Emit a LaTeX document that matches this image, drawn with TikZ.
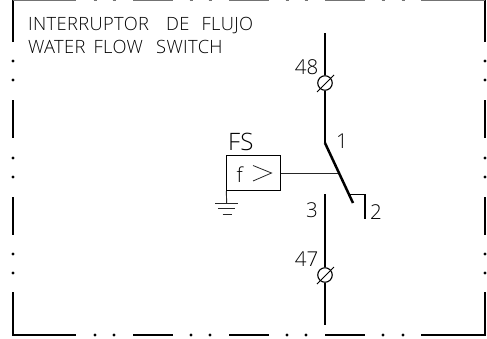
\documentclass[tikz,border=0pt]{standalone}
\usepackage{fontspec}
\setmainfont{Open Sans Light}
\tikzset{
  x=1pt,y=-1pt,
  frameline/.style={line width=2.7pt,line cap=butt,black},
  wire/.style={line width=1.1pt,black},
  thinwire/.style={line width=0.9pt,black!85},
  blade/.style={line width=2.5pt,black},
  terminal/.style={circle,draw=black,line width=1.1pt,fill=white,inner sep=0pt,minimum size=14.5pt},
  lab/.style={inner sep=0pt,text=black,font=\fontsize{20.5}{20.5}\selectfont},
  head/.style={inner sep=0pt,anchor=base west,text=black,font=\fontsize{18.3}{18.3}\selectfont\addfontfeature{LetterSpace=2}}
}
\begin{document}
\begin{tikzpicture}
\useasboundingbox (0,0) rectangle (487,338);
\fill[white] (0,0) rectangle (487,338);
% frame
\draw[frameline] (13,42) -- (13,0);
\foreach \y in {61,80,158,177,254,273}{\fill (13,\y) circle[radius=1.7]; \fill (485,\y) circle[radius=1.7];}
\draw[frameline] (13,100) -- (13,138);
\draw[frameline] (13,197) -- (13,235);
\draw[frameline] (13,292) -- (13,335) -- (76,335);
\draw[frameline] (485,42) -- (485,0);
\draw[frameline] (485,100) -- (485,138);
\draw[frameline] (485,197) -- (485,235);
\draw[frameline] (485,292) -- (485,335) -- (421,335);
\draw[frameline] (133,335) -- (173,335);
\draw[frameline] (229,335) -- (269,335);
\draw[frameline] (325,335) -- (365,335);
\foreach \x in {95,114,191,210,287,306,383,403}{\fill (\x,335) circle[radius=1.7];}
% top edge, clipped by the page
\draw[black!55,line width=1pt] (13,0) -- (76,0) (133,0) -- (173,0) (229,0) -- (269,0) (325,0) -- (365,0) (421,0) -- (485,0);
\foreach \x in {95,114,191,210,287,306,383,403}{\draw[black!55,line width=1pt] (\x-1.5,0) -- (\x+1.5,0);}
% title
\node[head] (t1) at (28,30) {INTERRUPTOR\hspace{12pt} DE\hspace{7pt} FLUJO};
\node[head] (t2) at (28,53) {WATER\hspace{3pt} FLOW\hspace{8pt} SWITCH};
% terminals
\coordinate (top) at (325,33);
\coordinate (pivot) at (325,143);
\coordinate (tipb) at (353,203);
\coordinate (lowtop) at (325,194);
\coordinate (lowend) at (325,325);
\node[terminal] (t48) at (325,83) {};
\node[terminal] (t47) at (325,275) {};
\draw[wire] (top) -- (t48);
\draw[wire] (t48) -- (pivot);
\draw[wire] (lowtop) -- (t47);
\draw[wire] (t47) -- (lowend);
\draw[line width=1pt] (317,92) -- (334,75);
\draw[line width=1pt] (317,284) -- (334,267);
\draw[blade] (pivot) -- (tipb);
% contact 2
\coordinate (c2a) at (350,194.7);
\coordinate (c2b) at (365,194.7);
\coordinate (c2c) at (365,219);
\draw[wire] (c2a) -- (c2b) -- (c2c);
% box
\node[draw=black,line width=0.9pt,minimum width=53.5pt,minimum height=35.5pt,inner sep=0pt] (fs) at (253.5,173) {};
\coordinate (act) at (338,173);
\draw[thinwire] (fs.east) -- (act);
\draw[line width=0.8pt,black!85] (253,165.5) -- (271.5,173) -- (253,181);
\node[lab,anchor=base west] (f) at (236.5,182) {f};
\node[lab,anchor=base west] (fsl) at (228,150) {\fontsize{24}{24}\selectfont FS};
% ground
\coordinate (g0) at (226.7,203);
\draw[thinwire] (fs.south west) -- (g0);
\draw[thinwire] (215,203) -- (238,203);
\draw[thinwire] (218,208.5) -- (235,208.5);
\draw[thinwire] (222.5,214) -- (232,214);
% labels
\node[lab,anchor=base east] (l48) at (318.5,74) {48};
\node[lab,anchor=base east] (l47) at (318.5,266) {47};
\node[lab,anchor=base west] (l1) at (336,148) {1};
\node[lab,anchor=base west] (l3) at (306,217) {3};
\node[lab,anchor=base west] (l2) at (370,219.5) {2};
\end{tikzpicture}
\end{document}
